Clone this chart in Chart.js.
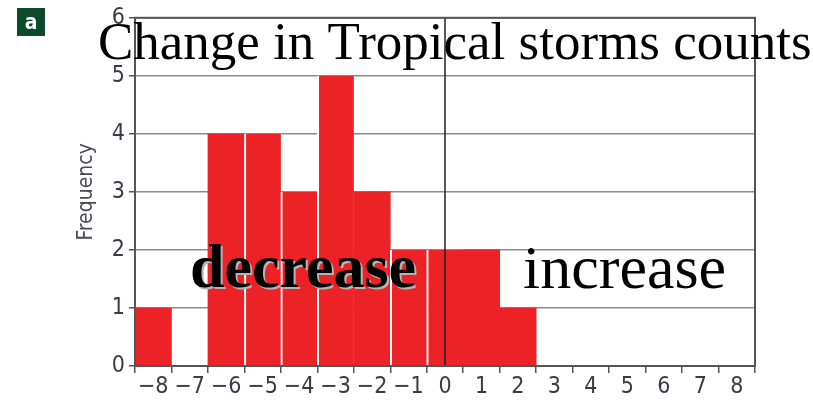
<!DOCTYPE html>
<html>
<head>
<meta charset="utf-8">
<script src="https://cdn.jsdelivr.net/npm/chart.js@4.4.1/dist/chart.umd.min.js"></script>
<style>
html, body { margin: 0; padding: 0; background: #fff; }
#wrap { width: 813px; height: 403px; position: relative; }
</style>
</head>
<body>
<div id="wrap"><canvas id="chartStorms"></canvas></div>
<script>
// Data
var binLabels = ['−8', '−7', '−6', '−5', '−4', '−3', '−2', '−1', '0', '1', '2', '3', '4', '5', '6', '7', '8'];
var counts = [1, 0, 4, 4, 3, 5, 3, 2, 2, 2, 1, 0, 0, 0, 0, 0, 0];
var yMin = 0;
var yMax = 6;
var zeroLabel = '0';
// bins drawn with a thin white gap on their left side
var gapBefore = ['−5', '−4', '−3', '−1', '0'];

var narrow = "'Liberation Sans Narrow', 'DejaVu Sans Condensed', Arial, sans-serif";
var serif = "'Liberation Serif', 'Times New Roman', serif";
var axisGrey = '#555';

// frame, zero line and text overlays
var overlay = {
    id: 'overlay',
    afterDatasetsDraw: function (chart) {
        var ctx = chart.ctx;
        var a = chart.chartArea;
        var xs = chart.scales.x;
        ctx.save();
        // zero line
        var x0 = xs.getPixelForValue(binLabels.indexOf(zeroLabel));
        ctx.strokeStyle = '#222';
        ctx.lineWidth = 1.5;
        ctx.beginPath();
        ctx.moveTo(x0, a.top);
        ctx.lineTo(x0, a.bottom);
        ctx.stroke();
        // frame
        ctx.strokeStyle = axisGrey;
        ctx.lineWidth = 2;
        ctx.strokeRect(a.left, a.top, a.right - a.left, a.bottom - a.top);
        ctx.restore();
    },
    afterDraw: function (chart) {
        var ctx = chart.ctx;
        ctx.save();
        // panel badge
        ctx.fillStyle = '#0d4a2c';
        ctx.fillRect(17, 8, 28, 28);
        ctx.fillStyle = '#fff';
        ctx.font = "bold 21px " + narrow;
        ctx.textAlign = 'center';
        ctx.textBaseline = 'alphabetic';
        ctx.fillText('a', 31, 29);

        ctx.textAlign = 'left';
        ctx.fillStyle = '#000';
        ctx.font = "53px " + serif;
        ctx.fillText('Change in Tropical storms counts', 98, 59);

        ctx.font = "bold 62px " + serif;
        ctx.fillStyle = '#b4b4b4';
        ctx.fillText('decrease', 192, 289);
        ctx.fillStyle = '#000';
        ctx.fillText('decrease', 190, 287);

        ctx.font = "62px " + serif;
        ctx.fillText('increase', 523, 288);
        ctx.restore();
    }
};

var data = {
    labels: binLabels,
    datasets: [{
        data: counts,
        backgroundColor: '#ec2227',
        borderColor: '#ffffff',
        borderWidth: function (c) {
            return gapBefore.indexOf(binLabels[c.dataIndex]) >= 0 ? { left: 2, right: 0, top: 0, bottom: 0 } : 0;
        },
        borderSkipped: false,
        categoryPercentage: 1.0,
        barPercentage: 1.0
    }]
};

var options = {
    responsive: true,
    maintainAspectRatio: false,
    animation: false,
    layout: { padding: { left: 74, right: 58, top: 14, bottom: 0 } },
    plugins: {
        legend: { display: false },
        tooltip: { enabled: false }
    },
    scales: {
        x: {
            grid: {
                display: true,
                offset: true,
                drawOnChartArea: false,
                drawTicks: true,
                tickLength: 7,
                color: axisGrey,
                lineWidth: 1.5
            },
            border: { display: true, color: axisGrey, width: 2 },
            ticks: {
                autoSkip: false,
                maxRotation: 0,
                padding: 0,
                color: '#3a3a48',
                font: { family: narrow, size: 23 }
            },
            afterFit: function (s) { s.height = 37; }
        },
        y: {
            min: yMin,
            max: yMax,
            grid: {
                color: '#8c8c8c',
                lineWidth: 1.5,
                drawTicks: true,
                tickLength: 6,
                tickColor: axisGrey
            },
            border: { display: true, color: axisGrey, width: 2 },
            ticks: {
                stepSize: 1,
                padding: 4,
                color: '#3a3a48',
                font: { family: narrow, size: 23 }
            },
            title: {
                display: true,
                text: 'Frequency',
                color: '#4a4a56',
                padding: 0,
                font: { family: narrow, size: 21 }
            },
            afterFit: function (s) { s.width = 61; }
        }
    }
};

// Create the chart
var ctx = document.getElementById('chartStorms').getContext('2d');
var stormChart = new Chart(ctx, {
    type: 'bar',
    data: data,
    options: options,
    plugins: [overlay]
});
</script>
</body>
</html>
